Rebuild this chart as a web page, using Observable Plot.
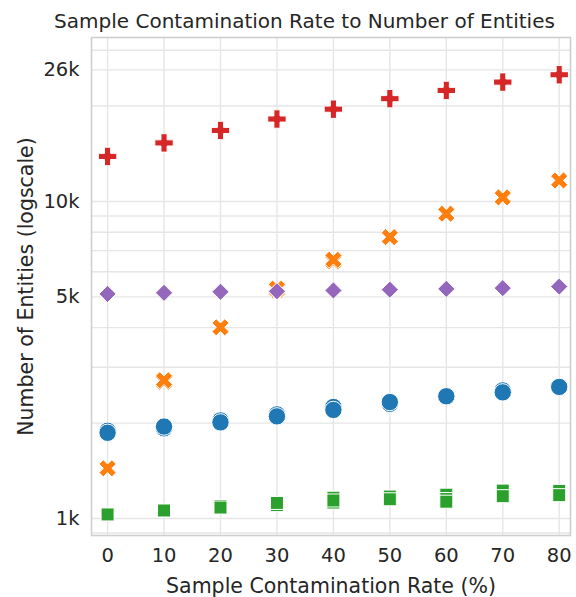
<!DOCTYPE html>
<html>
<head>
<meta charset="utf-8">
<script src="https://cdn.jsdelivr.net/npm/d3@7"></script>
<script src="https://cdn.jsdelivr.net/npm/@observablehq/plot@0.6"></script>
<style>
  html, body { margin: 0; padding: 0; background: white; }
</style>
</head>
<body>
<div id="chart"></div>
<script>
// ---- Data ----
const rates = [0, 10, 20, 30, 40, 50, 60, 70, 80];

const plusMain    = [13870, 15300, 16750, 18200, 19550, 21100, 22400, 23800, 25100];
const crossMain   = [1440, 2730, 4010, 5310, 6550, 7720, 9150, 10300, 11650];
const crossAlt    = [null, 2700, null, 5260, 6470, null, null, null, null];
const diamondMain = [5110, 5150, 5190, 5210, 5240, 5270, 5300, 5330, 5390];
const circleMain  = [1864, 1950, 2010, 2100, 2200, 2330, 2430, 2500, 2600];
const circleAlt   = [1891, 1925, 2039, 2131, 2248, 2300, null, 2536, null];
const squareMain  = [1030, 1060, 1083, 1120, 1140, 1150, 1130, 1176, 1185];
const squareAlt   = [null, null, 1095, 1102, 1163, 1173, 1152, 1225, 1222];
const squareAlt2  = [null, null, null, null, 1123, null, 1189, null, null];

const yTickValues = [1000, 5000, 10000, 26000];
const yTickLabels = ["1k", "5k", "10k", "26k"];
const yGridValues = [900, 1000, 2000, 3000, 4000, 5000, 6000, 7000, 8000, 9000, 10000, 20000, 26000, 30000];

const titleText = "Sample Contamination Rate to Number of Entities";
const xLabelText = "Sample Contamination Rate (%)";
const yLabelText = "Number of Entities (logscale)";

// ---- Custom filled symbols (matplotlib style) ----
function poly(context, pts, k) {
  context.moveTo(pts[0][0] * k, pts[0][1] * k);
  for (let i = 1; i < pts.length; i++) context.lineTo(pts[i][0] * k, pts[i][1] * k);
  context.closePath();
}
const plusFilled = {
  draw(context, size) {
    const h = Math.sqrt(size / Math.PI);
    poly(context, [[-1,-3],[1,-3],[1,-1],[3,-1],[3,1],[1,1],[1,3],[-1,3],[-1,1],[-3,1],[-3,-1],[-1,-1]], h / 3);
  }
};
const xFilled = {
  draw(context, size) {
    const h = Math.sqrt(size / Math.PI);
    poly(context, [[-1,-2],[0,-1],[1,-2],[2,-1],[1,0],[2,1],[1,2],[0,1],[-1,2],[-2,1],[-1,0],[-2,-1]], h / 2);
  }
};
const diamondSym = {
  draw(context, size) {
    const h = Math.sqrt(size / Math.PI);
    poly(context, [[0,-1],[1,0],[0,1],[-1,0]], h);
  }
};
const squareSym = {
  draw(context, size) {
    const h = Math.sqrt(size / Math.PI);
    poly(context, [[-1,-1],[1,-1],[1,1],[-1,1]], h);
  }
};

function rows(values) {
  return rates.map((x, i) => ({x, y: values[i]})).filter(d => d.y != null);
}

function dots(values, symbol, r, fill) {
  return Plot.dot(rows(values), {
    x: "x", y: "y", symbol, r, fill,
    stroke: "white", strokeWidth: 1
  });
}

const ink = "#262626";

const chart = Plot.plot({
  width: 576,
  height: 597,
  marginTop: 37,
  marginBottom: 62,
  marginLeft: 91,
  marginRight: 6,
  style: { fontFamily: "DejaVu Sans", color: ink, background: "white", overflow: "visible" },
  x: { domain: [-2.85, 82], axis: null },
  y: { type: "log", domain: [884, 32900], axis: null },
  marks: [
    Plot.gridX(rates, { stroke: "#e6e6e6", strokeOpacity: 1, strokeWidth: 1.4 }),
    Plot.gridY(yGridValues, { stroke: "#e6e6e6", strokeOpacity: 1, strokeWidth: 1.4 }),
    Plot.frame({ stroke: "#cfcfcf", strokeWidth: 1.6 }),
    Plot.axisX(rates, { anchor: "bottom", tickSize: 0, tickPadding: 13, fontSize: 19.5, fill: ink, label: null }),
    Plot.axisY(yTickValues, {
      anchor: "left", tickSize: 0, tickPadding: 12, fontSize: 19.5, fill: ink, label: null,
      tickFormat: d => yTickLabels[yTickValues.indexOf(d)]
    }),
    // series
    dots(circleAlt, "circle", 8.7, "#1f77b4"),
    dots(circleMain, "circle", 8.7, "#1f77b4"),
    dots(crossAlt, xFilled, 8.6, "#ff7f0e"),
    dots(crossMain, xFilled, 8.6, "#ff7f0e"),
    dots(squareAlt2, squareSym, 6.5, "#2ca02c"),
    dots(squareAlt, squareSym, 6.5, "#2ca02c"),
    dots(squareMain, squareSym, 6.5, "#2ca02c"),
    dots(plusMain, plusFilled, 9.2, "#d62728"),
    dots(diamondMain, diamondSym, 8.6, "#9467bd"),
    // texts
    Plot.text([titleText], { frameAnchor: "top", lineAnchor: "bottom", dx: -26.5, dy: -10, fontSize: 20, fill: ink }),
    Plot.text([xLabelText], { frameAnchor: "bottom", lineAnchor: "bottom", dy: 57, fontSize: 20.5, fill: ink }),
    Plot.text([yLabelText], { frameAnchor: "left", textAnchor: "middle", lineAnchor: "bottom", rotate: -90, dx: -59, fontSize: 20.5, fill: ink })
  ]
});

document.getElementById("chart").appendChild(chart);
</script>
</body>
</html>
